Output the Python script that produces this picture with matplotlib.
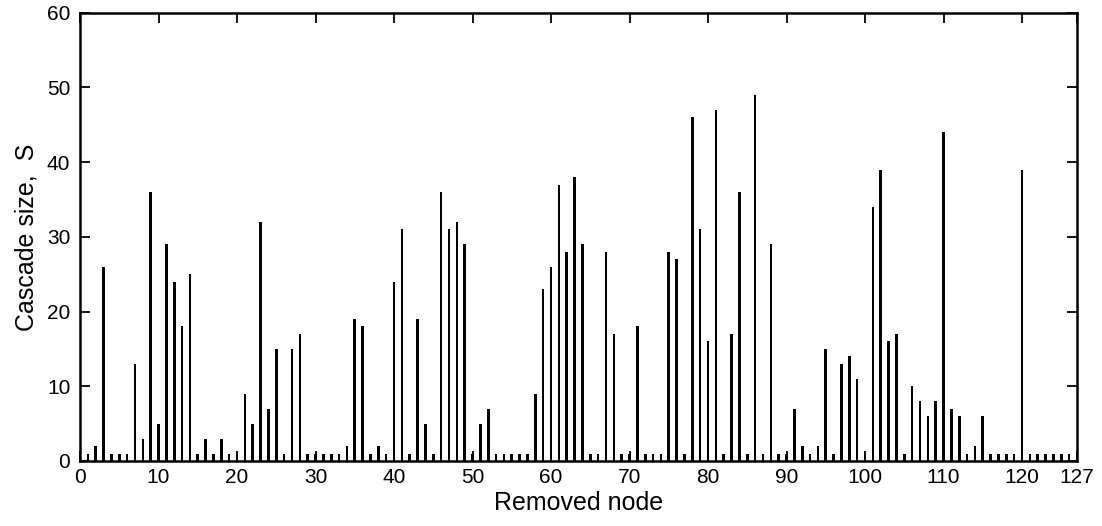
from __future__ import annotations

import matplotlib

matplotlib.use("Agg")
import matplotlib.pyplot as plt
import numpy as np

NODES = np.arange(1, 128)
CASCADE_SIZE = [
    1, 2, 26, 1, 1, 1, 13, 3, 36, 5,
    29, 24, 18, 25, 1, 3, 1, 3, 1, 1,
    9, 5, 32, 7, 15, 1, 15, 17, 1, 1,
    1, 1, 1, 2, 19, 18, 1, 2, 1, 24,
    31, 1, 19, 5, 1, 36, 31, 32, 29, 1,
    5, 7, 1, 1, 1, 1, 1, 9, 23, 26,
    37, 28, 38, 29, 1, 1, 28, 17, 1, 1,
    18, 1, 1, 1, 28, 27, 1, 46, 31, 16,
    47, 1, 17, 36, 1, 49, 1, 29, 1, 1,
    7, 2, 1, 2, 15, 1, 13, 14, 11, 1,
    34, 39, 16, 17, 1, 10, 8, 6, 8, 44,
    7, 6, 1, 2, 6, 1, 1, 1, 1, 39,
    1, 1, 1, 1, 1, 1, 1,
]
X_TICKS = [0, 10, 20, 30, 40, 50, 60, 70, 80, 90, 100, 110, 120, 127]
Y_TICKS = [0, 10, 20, 30, 40, 50, 60]


def main() -> None:
    plt.rcParams["font.family"] = ["Liberation Sans", "DejaVu Sans"]
    fig = plt.figure(figsize=(11.02, 5.26), dpi=100)
    ax = fig.add_axes([0.0726, 0.1236, 0.9047, 0.8523])

    ax.bar(NODES, CASCADE_SIZE, width=0.33, color="black", edgecolor="none")

    ax.set_xlim(0, 127)
    ax.set_ylim(0, 60)
    ax.set_xticks(X_TICKS)
    ax.set_yticks(Y_TICKS)
    ax.tick_params(direction="in", top=True, right=True, length=7, width=1.3,
                   labelsize=15)
    ax.tick_params(axis="x", pad=5)
    ax.tick_params(axis="y", pad=7)
    for spine in ax.spines.values():
        spine.set_linewidth(1.8)

    ax.set_xlabel("Removed node", fontsize=18, labelpad=3)
    ax.set_ylabel("Cascade size,  S", fontsize=18, labelpad=6)

    fig.savefig("out.png", dpi=100)
    plt.close(fig)


if __name__ == "__main__":
    main()
